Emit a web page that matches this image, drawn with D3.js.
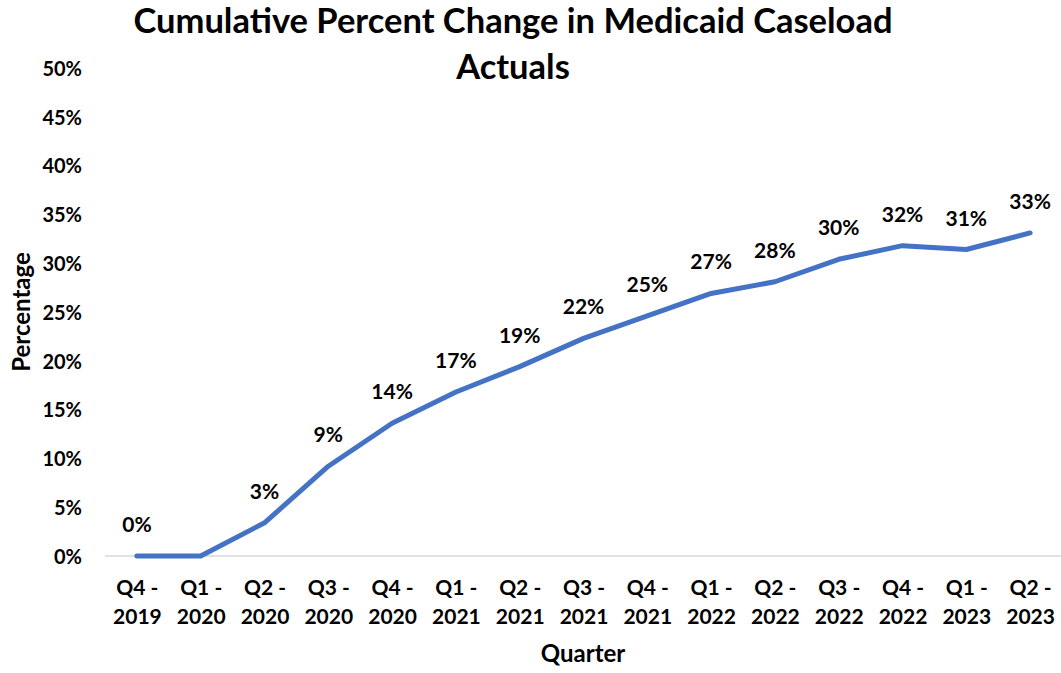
<!DOCTYPE html>
<html>
<head>
<meta charset="utf-8">
<script src="https://cdn.jsdelivr.net/npm/d3@7"></script>
<style>
  html, body { margin: 0; padding: 0; background: #fff; }
  svg { display: block; font-family: Lato, "Open Sans", sans-serif; }
</style>
</head>
<body>
<svg id="chart" width="1061" height="673"></svg>
<script>
// Quarter labels (two lines each) and cumulative % change in caseload
const quarters = ["Q4 - 2019", "Q1 - 2020", "Q2 - 2020", "Q3 - 2020", "Q4 - 2020",
                  "Q1 - 2021", "Q2 - 2021", "Q3 - 2021", "Q4 - 2021", "Q1 - 2022",
                  "Q2 - 2022", "Q3 - 2022", "Q4 - 2022", "Q1 - 2023", "Q2 - 2023"];
const pctChange = [0, 0, 3.4, 9.2, 13.6, 16.8, 19.4, 22.3, 24.6, 26.9, 28.1, 30.4, 31.8, 31.4, 33.1];
// Quarters that carry a value label
const labelled = [true, false, true, true, true, true, true, true, true, true, true, true, true, true, true];
const yTicks = [0, 5, 10, 15, 20, 25, 30, 35, 40, 45, 50];
const titleLines = ["Cumulative Percent Change in Medicaid Caseload", "Actuals"];

const svg = d3.select("#chart");
const plotLeft = 105, plotRight = 1062, plotTop = 68, plotBottom = 556;

const x = d3.scalePoint().domain(quarters).range([plotLeft, plotRight]).padding(0.5);
const y = d3.scaleLinear().domain([0, 50]).range([plotBottom, plotTop]);
const pct = v => d3.format(".0%")(v / 100);

// Title
svg.append("text")
  .attr("text-anchor", "middle")
  .attr("font-weight", 700)
  .attr("font-size", 34.5)
  .attr("fill", "#000")
  .selectAll("tspan").data(titleLines).join("tspan")
  .attr("x", 513)
  .attr("y", (d, i) => 33 + i * 46)
  .text(d => d);

// Baseline gridline
svg.append("line")
  .attr("x1", plotLeft).attr("x2", plotRight)
  .attr("y1", y(0)).attr("y2", y(0))
  .attr("stroke", "#d9d9d9").attr("stroke-width", 1.5);

// Y axis labels
const yAxis = svg.append("g")
  .attr("transform", `translate(82,0)`)
  .call(d3.axisLeft(y).tickValues(yTicks).tickFormat(pct).tickSize(0).tickPadding(0));
yAxis.select(".domain").remove();
yAxis.selectAll("text")
  .attr("font-family", "Lato, sans-serif")
  .attr("font-size", 20).attr("font-weight", 700).attr("fill", "#000")
  .attr("dy", "0.36em");

// X axis labels, split over two lines
const xAxis = svg.append("g")
  .attr("transform", `translate(0,${plotBottom})`)
  .call(d3.axisBottom(x).tickSize(0).tickFormat(""));
xAxis.select(".domain").remove();
xAxis.selectAll(".tick").each(function (d) {
  const parts = d.split(" - ");
  const t = d3.select(this).append("text")
    .attr("text-anchor", "middle")
    .attr("font-family", "Lato, sans-serif")
    .attr("font-size", 21).attr("font-weight", 700).attr("fill", "#000");
  t.append("tspan").attr("x", 0).attr("y", 39).text(parts[0] + " -");
  t.append("tspan").attr("x", 0).attr("y", 68).text(parts[1]);
});

// Axis titles
svg.append("text")
  .attr("transform", "translate(30,312) rotate(-90)")
  .attr("text-anchor", "middle")
  .attr("font-size", 24).attr("font-weight", 700).attr("fill", "#000")
  .text("Percentage");
svg.append("text")
  .attr("x", 583).attr("y", 662)
  .attr("text-anchor", "middle")
  .attr("font-size", 24).attr("font-weight", 700).attr("fill", "#000")
  .text("Quarter");

// Series line
const line = d3.line()
  .x((d, i) => x(quarters[i]))
  .y(d => y(d));
svg.append("path")
  .datum(pctChange)
  .attr("d", line)
  .attr("fill", "none")
  .attr("stroke", "#4472c4")
  .attr("stroke-width", 5)
  .attr("stroke-linejoin", "round")
  .attr("stroke-linecap", "round");

// Value labels above points
svg.append("g").selectAll("text")
  .data(pctChange.map((v, i) => ({ v, q: quarters[i], show: labelled[i] })).filter(d => d.show))
  .join("text")
  .attr("x", d => x(d.q))
  .attr("y", d => y(d.v) - 24)
  .attr("text-anchor", "middle")
  .attr("font-size", 21).attr("font-weight", 700).attr("fill", "#000")
  .text(d => pct(d.v));
</script>
</body>
</html>
